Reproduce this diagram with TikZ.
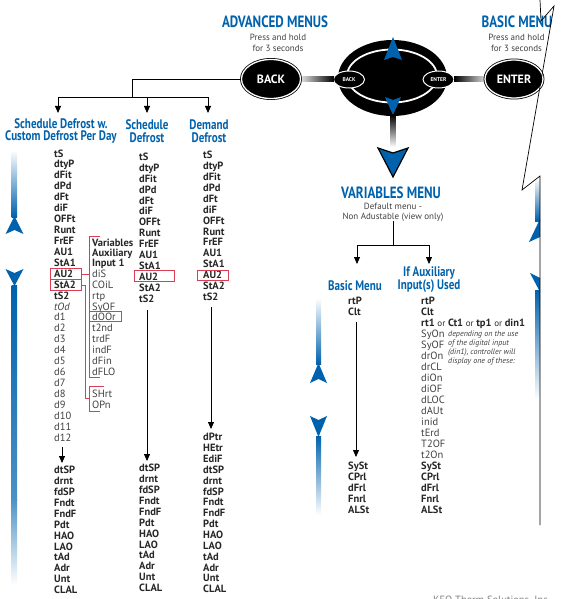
\documentclass[tikz,border=0pt]{standalone}
\usepackage{fontspec}
\setmainfont{PT Sans}
\newfontfamily\condfont[FakeStretch=0.8]{PT Sans}
\usetikzlibrary{shapes.geometric,arrows.meta}

\definecolor{keoblue}{RGB}{0,98,172}
\definecolor{keored}{RGB}{216,62,84}
\definecolor{keogray}{RGB}{64,64,64}

\tikzset{
  menuhead/.style={font=\condfont\bfseries\fontsize{16.3}{16}\selectfont, text=keoblue, inner sep=0pt},
  colhead/.style={font=\condfont\bfseries\fontsize{13.8}{12.8}\selectfont, text=keoblue, inner sep=0pt, align=center},
  hint/.style={font=\fontsize{9}{11}\selectfont, text=keogray, inner sep=0pt, align=center},
  item/.style={font=\bfseries\fontsize{10.5}{11}\selectfont, text=black!85, anchor=base west, inner sep=0pt},
  reg/.style={font=\fontsize{10.5}{11}\selectfont, text=black!75, anchor=base west, inner sep=0pt},
  bigkey/.style={ellipse, fill=black, draw=black, double=white, double distance=1.3pt, line width=0.8pt,
    text=white, font=\bfseries\fontsize{12}{12}\selectfont, inner sep=0pt},
  smallkey/.style={ellipse, fill=black, draw=white, line width=1pt, text=white,
    font=\bfseries\fontsize{5.5}{6}\selectfont, inner sep=0pt, minimum width=31pt, minimum height=17pt},
  redbox/.style={draw=keored, line width=0.8pt, inner sep=0pt, anchor=west, minimum height=10.5pt},
  redline/.style={draw=keored, line width=0.8pt},
  conn/.style={line width=0.8pt},
  arr/.style={line width=0.8pt, -{Triangle[length=7pt,width=6pt]}},
}

\begin{document}
\begin{tikzpicture}[x=1pt,y=-1pt]
  \useasboundingbox (0,0) rectangle (563,599);
  \clip (0,0) rectangle (563,599);
  % Blue scroll bars
  \shade[top color=white, bottom color=keoblue] (11.5,150) rectangle (17,217);
  \fill[keoblue] (14.5,216) -- (23.5,234) -- (14.5,230) -- (5.5,234) -- cycle;
  \fill[keoblue] (5.5,269) -- (14.5,273) -- (23.5,269) -- (14.5,286) -- cycle;
  \shade[top color=keoblue, bottom color=keoblue!70] (11.5,285) rectangle (17,500);
  \shade[top color=keoblue!70, bottom color=white] (11.5,499) rectangle (17,585);
  \shade[top color=white, bottom color=keoblue] (316,298) rectangle (321,364);
  \fill[keoblue] (318.5,363) -- (327,383) -- (318.5,379) -- (310,383) -- cycle;
  \fill[keoblue] (310,416) -- (318.5,420) -- (327,416) -- (318.5,437) -- cycle;
  \shade[top color=keoblue, bottom color=white] (316,436) rectangle (321,515);
  \shade[top color=white, bottom color=keoblue] (535,178) rectangle (540,221);
  \fill[keoblue] (540,219) -- (529,242) -- (540,237) -- cycle;
  \fill[keoblue] (530,273) -- (540,278) -- (540,292) -- cycle;
  \shade[top color=keoblue, bottom color=white] (535,290) rectangle (540,400);
  % Advanced menus
  \node[menuhead] (advhead) at (275,22) {ADVANCED MENUS};
  \node[hint] (advhint) at (278,42.5) {Press and hold\\for 3 seconds};
  \node[bigkey, minimum width=59pt, minimum height=39pt] (back) at (271,79) {BACK};
  % Keypad
  \node[ellipse, fill=black, minimum width=109pt, minimum height=76pt, inner sep=0pt] (pad) at (392.5,78) {};
  \draw[white, line width=1.8pt] (392,76) ellipse [x radius=45pt, y radius=26.5pt];
  \fill[keoblue] (393,37) -- (402,60) -- (393,57) -- (384,60) -- cycle;
  \fill[keoblue] (393,115) -- (401,97) -- (393,100) -- (385,97) -- cycle;
  \node[smallkey] (padback) at (349,79.5) {BACK};
  \node[smallkey] (padenter) at (438.5,79.5) {ENTER};
  \shade[left color=gray!30, right color=black] (302,77) rectangle (334,82);
  \shade[left color=black, right color=gray!30] (454,77) rectangle (485,82);
  \shade[top color=black, bottom color=white] (390.5,115) rectangle (395.5,147);
  \filldraw[fill=keoblue, draw=black, line width=1.2pt] (378,148) -- (393,153) -- (408,148) -- (393,177) -- cycle;
  % Basic menu
  \node[menuhead] (bashead) at (517,22) {BASIC MENU};
  \node[hint] (bashint) at (516.5,42.5) {Press and hold\\for 3 seconds};
  \node[bigkey, minimum width=58pt, minimum height=38pt] (enter) at (514,79) {ENTER};
  \draw[line width=0.7pt] (540,0) -- (541,21) -- (554,6) -- (522,190) -- (540,176) -- (540,525);
  % Advanced menu branches
  \coordinate (split) at (132,97);
  \coordinate (tip1) at (58,113);
  \coordinate (tip2) at (147,113);
  \coordinate (tip3) at (208,113);
  \draw[conn] (back.west) -| (split);
  \draw[arr] (split) -| (tip1);
  \draw[arr] (split) -| (tip2);
  \draw[arr] (split) -| (tip3);
  \node[colhead] (h1) at (61,131) {Schedule Defrost w.\\Custom Defrost Per Day};
  \node[colhead] (h2) at (147,131) {Schedule\\Defrost};
  \node[colhead] (h3) at (209,131) {Demand\\Defrost};
  % Schedule defrost w. custom defrost per day
  \foreach \lbl [count=\i from 0] in {tS,dtyP,dFit,dPd,dFt,diF,OFFt,Runt,FrEF,AU1,StA1,AU2,StA2,tS2}
    \node[item] (a\i) at (54,{157+10.93*\i}) {\lbl};
  \node[reg, font=\itshape\fontsize{10.5}{11}\selectfont] (a14) at (54,{157+10.93*14}) {tOd};
  \foreach \i in {1,...,12}
    \node[reg] (d\i) at (54,{157+10.93*(14+\i)}) {d\i};
  \coordinate (c1a) at (62,447);
  \coordinate (c1b) at (62,463);
  \draw[arr] (c1a) -- (c1b);
  \foreach \lbl [count=\i from 0] in {dtSP,drnt,fdSP,Fndt,FndF,Pdt,HAO,LAO,tAd,Adr,Unt,CLAL}
    \node[item] (e\i) at (54,{473.7+10.9*\i}) {\lbl};
  % Auxiliary input options
  \node[item] (v8) at (92,246.7) {Variables};
  \node[item] (v9) at (92,256.7) {Auxiliary};
  \node[item] (v10) at (92,266.7) {Input 1};
  \foreach \lbl [count=\i from 11] in {diS,COiL,rtp,SyOF,dOOr,t2nd,trdF,indF,dFin,dFLO}
    \node[reg] (v\i) at (92,{157+10.93*\i}) {\lbl};
  \node[reg] (v22) at (92,{157+10.93*22}) {SHrt};
  \node[reg] (v23) at (92,{157+10.93*23}) {OPn};
  \node[redbox, minimum width=31pt] (box1) at (50,274) {};
  \node[redbox, minimum width=31pt] (box2) at (50,285) {};
  \node[redbox, minimum width=32pt] (box3) at (89,316.5) {};
  \draw[redline] (100,236) -- (89.5,236) -- (89.5,377) -- (100,377);
  \draw[redline] (box1.east) -- (89.5,274);
  \draw[redline] (104,386) -- (89.5,386) -- (89.5,411) -- (100,411);
  \draw[redline] (box2.east) -| (85,398) -- (89.5,398);
  % Schedule defrost
  \foreach \lbl [count=\i from 0] in {tS,dtyP,dFit,dPd,dFt,diF,OFFt,Runt,FrEF,AU1,StA1,AU2,StA2,tS2}
    \node[item] (b\i) at (139,{160.4+10.9*\i}) {\lbl};
  \node[redbox, minimum width=40pt] (box4) at (134,276) {};
  \coordinate (c2a) at (147,310);
  \coordinate (c2b) at (147,461);
  \draw[arr] (c2a) -- (c2b);
  \foreach \lbl [count=\i from 0] in {dtSP,drnt,fdSP,Fndt,FndF,Pdt,HAO,LAO,tAd,Adr,Unt,CLAL}
    \node[item] (f\i) at (139,{471.7+10.9*\i}) {\lbl};
  % Demand defrost
  \foreach \lbl [count=\i from 0] in {tS,dtyP,dFit,dPd,dFt,diF,OFFt,Runt,FrEF,AU1,StA1,AU2,StA2,tS2}
    \node[item] (c\i) at (203,{158.7+10.9*\i}) {\lbl};
  \node[redbox, minimum width=31pt] (box5) at (197,275.5) {};
  \coordinate (c3a) at (211,307);
  \coordinate (c3b) at (211,429);
  \draw[arr] (c3a) -- (c3b);
  \foreach \lbl [count=\i from 0] in {dPtr,HEtr,EdiF,dtSP,drnt,fdSP,Fndt,FndF,Pdt,HAO,LAO,tAd,Adr,Unt,CLAL}
    \node[item] (g\i) at (203,{440.7+10.86*\i}) {\lbl};
  % Variables menu
  \node[menuhead] (varhead) at (391,193) {VARIABLES MENU};
  \node[hint, font=\fontsize{9}{10}\selectfont] (varhint) at (393,212) {Default menu -\\Non Adustable (view only)};
  \coordinate (vsplit) at (393,245);
  \coordinate (vtip1) at (357,264);
  \coordinate (vtip2) at (429,264);
  \draw[conn] (varhint.south) -- (vsplit);
  \draw[arr] (vsplit) -| (vtip1);
  \draw[arr] (vsplit) -| (vtip2);
  \node[colhead] (bmhead) at (355,286) {Basic Menu};
  \node[colhead] (auxhead) at (429,280) {If Auxiliary\\Input(s) Used};
  % Basic menu list
  \node[item] (m0) at (348,304.7) {rtP};
  \node[item] (m1) at (348,315.7) {Clt};
  \coordinate (c4a) at (356,322);
  \coordinate (c4b) at (356,457);
  \draw[arr] (c4a) -- (c4b);
  \foreach \lbl [count=\i from 15] in {SySt,CPrl,dFrl,Fnrl,ALSt}
    \node[item] (m\i) at (348,{304.7+11*\i}) {\lbl};
  % Auxiliary input(s) list
  \node[item] (x0) at (421,304.7) {rtP};
  \node[item] (x1) at (421,315.7) {Clt};
  \node[item] (x2) at (421,326.7) {rt1 {\mdseries\fontsize{9}{11}\selectfont or} Ct1
    {\mdseries\fontsize{9}{11}\selectfont or} tp1 {\mdseries\fontsize{9}{11}\selectfont or} din1};
  \foreach \lbl [count=\i from 3] in {SyOn,SyOF,drOn,drCL,diOn,diOF,dLOC,dAUt,inid,tErd,T2OF,t2On}
    \node[reg] (x\i) at (421,{304.7+11*\i}) {\lbl};
  \foreach \lbl [count=\i from 15] in {SySt,CPrl,dFrl,Fnrl,ALSt}
    \node[item] (x\i) at (421,{304.7+11*\i}) {\lbl};
  \node[anchor=north west, align=left, inner sep=0pt, text=keogray,
    font=\itshape\fontsize{8}{9}\selectfont] (note) at (448,330.5)
    {depending on the use\\of the digital input\\(din1), controller will\\display one of these:};
  % Footer
  \node[anchor=north west, inner sep=0pt, text=gray, font=\fontsize{10.5}{11}\selectfont] (footer) at (433,595.5)
    {KEO Therm Solutions, Inc.};
\end{tikzpicture}
\end{document}
